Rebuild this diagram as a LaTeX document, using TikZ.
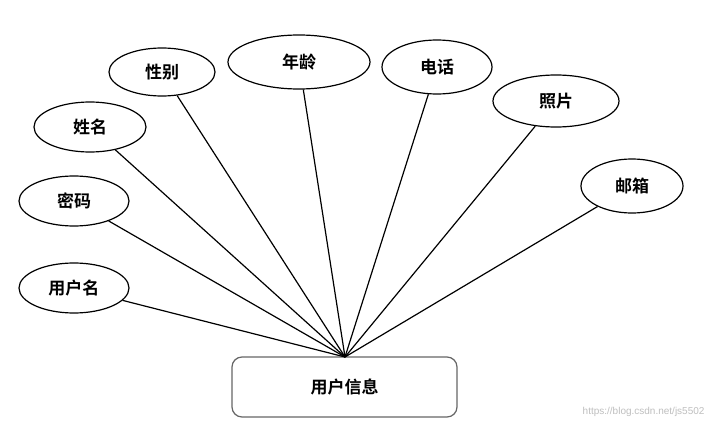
\documentclass[tikz,border=0pt]{standalone}
\usepackage{fontspec}
\setmainfont{Liberation Sans}
\newfontfamily\cjk{Noto Sans CJK SC Bold}
\usetikzlibrary{shapes.geometric}
\begin{document}
\begin{tikzpicture}[x=1pt,y=-1pt,
  attr/.style={draw,line width=1.2pt,ellipse,inner sep=0pt,font=\cjk\fontsize{17}{17}\selectfont},
  ent/.style={draw=black!60,line width=1.2pt,rounded corners=10pt,minimum width=225pt,minimum height=60pt,font=\cjk\fontsize{17}{17}\selectfont},
  link/.style={line width=1.2pt}]
\useasboundingbox[fill=white] (0,0) rectangle (713,431);
\node[ent] (u) at (344.5,387) {用户信息};
\coordinate (hub) at (345,357);
\node[attr,minimum width=110pt,minimum height=50pt] (a1) at (74,288) {用户名};
\node[attr,minimum width=110pt,minimum height=50pt] (a2) at (74,201) {密码};
\node[attr,minimum width=112pt,minimum height=50pt] (a3) at (90,127) {姓名};
\node[attr,minimum width=106pt,minimum height=48pt] (a4) at (162,72) {性别};
\node[attr,minimum width=142pt,minimum height=54pt] (a5) at (299,62) {年龄};
\node[attr,minimum width=110pt,minimum height=54pt] (a6) at (437,67) {电话};
\node[attr,minimum width=126pt,minimum height=52pt] (a7) at (556,101) {照片};
\node[attr,minimum width=102pt,minimum height=54pt] (a8) at (632,186) {邮箱};
\foreach \n in {a1,a2,a3,a4,a5,a6,a7,a8} \draw[link] (\n) -- (hub);
\node[text=black!25,font=\fontsize{10}{10}\selectfont,anchor=east] (wm) at (708,412) {https://blog.csdn.net/js5502};
\end{tikzpicture}
\end{document}
